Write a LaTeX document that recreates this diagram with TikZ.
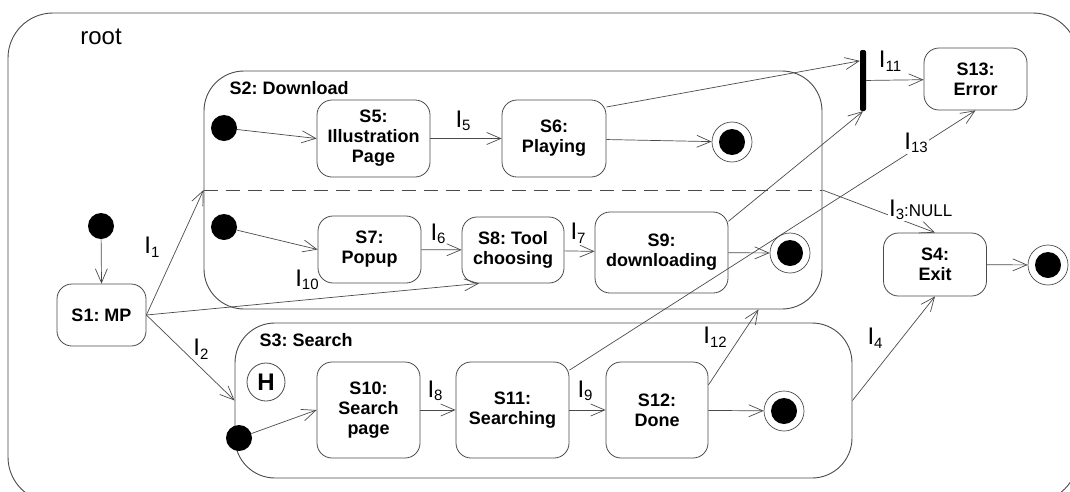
\documentclass[tikz,border=0pt]{standalone}
\usepackage{fontspec}
\setmainfont{Liberation Sans}
\usetikzlibrary{arrows.meta,calc}
\definecolor{ln}{HTML}{4A4A4A}
\frenchspacing
\newcommand{\lbl}[1]{I\raisebox{-3.5pt}{\fontsize{15}{15}\selectfont #1}}
\begin{document}
\begin{tikzpicture}[x=1pt,y=-1pt,
  every node/.style={font=\fontsize{18}{20}\selectfont\bfseries},
  st/.style={draw=ln, rounded corners=15pt, align=center, inner sep=0pt, line width=0.8pt},
  comp/.style={draw=ln, rounded corners=40pt, inner sep=0pt, line width=0.9pt},
  init/.style={circle, fill=black, minimum size=26pt, inner sep=0pt},
  fin/.style={circle, draw=ln, fill=white, minimum size=40pt, inner sep=0pt, line width=0.7pt,
    path picture={\fill[black] (path picture bounding box.center) circle (13pt);}},
  tr/.style={draw=ln, line width=0.7pt, -{Straight Barb[length=14pt,width=12pt]}},
  lab/.style={font=\fontsize{24}{24}\selectfont, inner sep=1pt},
  labw/.style={lab, fill=white},
]
\useasboundingbox (0,0) rectangle (1070,491);
\begin{scope}
  \clip (0,0) rectangle (1070,491);
  \draw[draw=ln, rounded corners=45pt, line width=0.9pt] (8,13) rectangle (1078,502);
\end{scope}
\node[font=\fontsize{24}{24}\selectfont] (root) at (101,37) {root};

% composite states
\node[comp, minimum width=618pt, minimum height=238pt] (S2) at (513,190) {};
\node[anchor=west] (S2t) at (226,88) {S2: Download};
\node[comp, minimum width=617pt, minimum height=155pt] (S3) at (543.5,400.5) {};
\node[anchor=west] (S3t) at (256,340) {S3: Search};

% simple states
\node[st, minimum width=89pt, minimum height=62pt] (S1) at (101.5,315) {S1: MP};
\node[st, minimum width=113pt, minimum height=77pt] (S5) at (373.5,138.5) {S5:\\Illustration\\Page};
\node[st, minimum width=104pt, minimum height=77pt] (S6) at (554,138.5) {S6:\\Playing};
\node[st, minimum width=103pt, minimum height=62pt] (S13) at (975.5,79) {S13:\\Error};
\node[st, minimum width=103pt, minimum height=67pt] (S7) at (369.5,249.5) {S7:\\Popup};
\node[st, minimum width=102pt, minimum height=66pt] (S8) at (513,250) {S8: Tool\\choosing};
\node[st, minimum width=133pt, minimum height=81pt] (S9) at (661.5,252.5) {S9:\\downloading};
\node[st, minimum width=103pt, minimum height=96pt] (S10) at (368.5,410) {S10:\\Search\\page};
\node[st, minimum width=113pt, minimum height=96pt] (S11) at (512.5,410) {S11:\\Searching};
\node[st, minimum width=102pt, minimum height=96pt] (S12) at (657,410) {S12:\\Done};
\node[st, minimum width=103pt, minimum height=63pt] (S4) at (935,264.5) {S4:\\Exit};

% pseudo states
\node[init] (i0) at (101,226) {};
\node[init] (d1) at (224,128) {};
\node[init] (d2) at (224,227) {};
\node[init] (d3) at (239,438) {};
\node[fin] (f1) at (732,142) {};
\node[fin] (f2) at (790,253) {};
\node[fin] (f3) at (784,411) {};
\node[fin] (f4) at (1048,265) {};
\node[circle, draw=ln, minimum size=38pt, inner sep=0pt, line width=0.8pt, font=\fontsize{24}{24}\selectfont\bfseries] (H) at (266,382) {H};
\node[fill=black, minimum width=6pt, minimum height=61pt, inner sep=0pt, rounded corners=2pt] (B) at (863,80.5) {};

\coordinate (bar6) at ($(B.north west)!0.18!(B.south west)$);
\coordinate (s8in) at ($(S8.south west)!0.17!(S8.south east)$);
\coordinate (s2b) at ($(S2.south west)!0.8967!(S2.south east)$);

% dashed separator
\draw[draw=ln, line width=0.8pt, dash pattern=on 14pt off 8pt] (S2.west) -- (S2.east);

% transitions
\draw[tr] (i0) -- (S1.north);
\draw[tr] (d1) -- (S5.west);
\draw[tr] (d2) -- (S7.west);
\draw[tr] (S5) -- (S6);
\draw[tr] (S6) -- (f1);
\draw[tr] (S6.31) -- (bar6);
\draw[tr] (B) -- (S13);
\draw[tr] (S7) -- (S8);
\draw[tr] (S8) -- (S9);
\draw[tr] (S9) -- (f2);
\draw[tr] (S9.25) -- (B.south);
\draw[tr] (S1.east) -- (S2.west);
\draw[tr] (S1.east) -- (S3.west);
\draw[tr] (S1.east) -- (s8in);
\draw[tr] (S2.east) -- (S4.north);
\draw[tr] (S4) -- (f4);
\draw[tr] (S3.east) -- (S4.south);
\draw[tr] (d3) -- (S10.west);
\draw[tr] (S10) -- (S11);
\draw[tr] (S11) -- (S12);
\draw[tr] (S12) -- (f3);
\draw[tr] (S12.26) -- (s2b);
\draw[tr] (S11.35) -- (S13.south);

% labels
\node[lab] (l1) at (152,247) {\lbl{1}};
\node[lab] (l2) at (201,349) {\lbl{2}};
\node[labw, anchor=west] (l3) at (888,210) {\lbl{3}{\fontsize{17}{17}\selectfont:NULL}};
\node[lab] (l4) at (875,338) {\lbl{4}};
\node[lab] (l5) at (463,121) {\lbl{5}};
\node[lab] (l6) at (438,234) {\lbl{6}};
\node[lab] (l7) at (578,233) {\lbl{7}};
\node[lab] (l8) at (435,391) {\lbl{8}};
\node[lab] (l9) at (585,391) {\lbl{9}};
\node[lab] (l10) at (307,280) {\lbl{10}};
\node[lab] (l11) at (890,61) {\lbl{11}};
\node[labw] (l12) at (715,337) {\lbl{12}};
\node[labw] (l13) at (916,143) {\lbl{13}};
\end{tikzpicture}
\end{document}
